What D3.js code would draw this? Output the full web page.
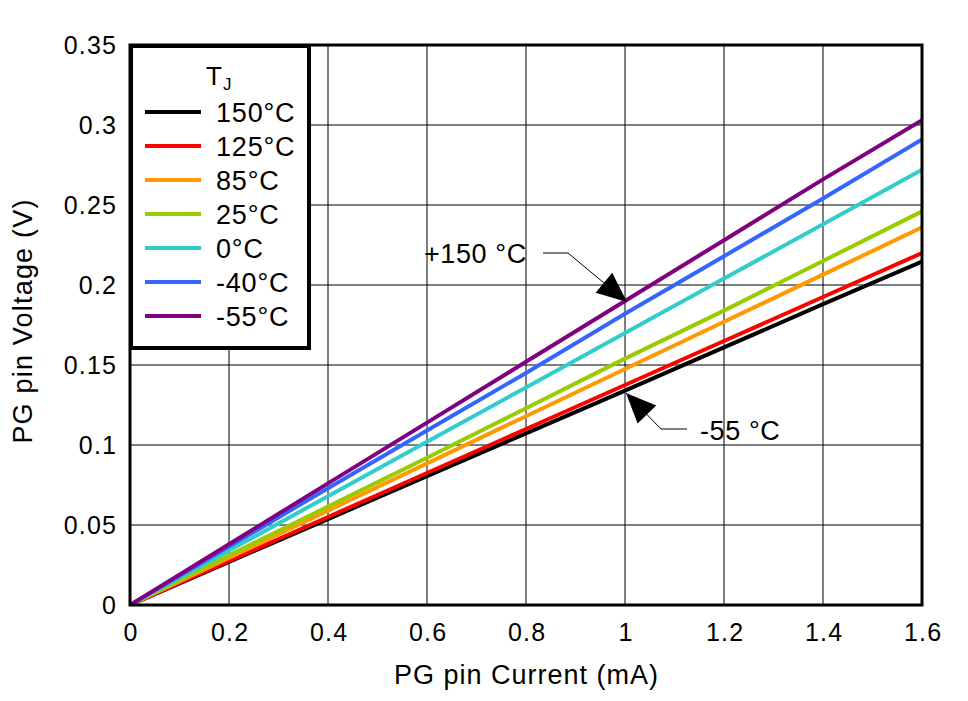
<!DOCTYPE html>
<html><head><meta charset="utf-8">
<script src="https://cdn.jsdelivr.net/npm/d3@7/dist/d3.min.js"></script>
<style>body{margin:0;background:#fff}svg{display:block}text{font-family:Arial,"Liberation Sans",sans-serif}</style>
</head><body><svg id="c" width="968" height="701"></svg>
<script>
const current = [0, 0.2, 0.4, 0.6, 0.8, 1.0, 1.2, 1.4, 1.6];
const seriesNames = ["150°C", "125°C", "85°C", "25°C", "0°C", "-40°C", "-55°C"];
const seriesColors = ["#000000", "#ff0000", "#ff9900", "#99cc00", "#33cccc", "#3366ff", "#800080"];
const v150 = [0, 0.027, 0.0537, 0.0805, 0.1073, 0.134, 0.161, 0.188, 0.2146];
const v125 = [0, 0.0275, 0.055, 0.0825, 0.110, 0.1375, 0.165, 0.1925, 0.220];
const v85 = [0, 0.0295, 0.059, 0.0885, 0.118, 0.1475, 0.177, 0.2065, 0.236];
const v25 = [0, 0.031, 0.0615, 0.092, 0.123, 0.154, 0.184, 0.215, 0.246];
const v0 = [0, 0.034, 0.068, 0.102, 0.136, 0.170, 0.204, 0.238, 0.272];
const vm40 = [0, 0.0365, 0.073, 0.109, 0.145, 0.182, 0.218, 0.254, 0.291];
const vm55 = [0, 0.038, 0.076, 0.114, 0.152, 0.190, 0.228, 0.266, 0.303];
const seriesValues = [v150, v125, v85, v25, v0, vm40, vm55];
const xTicks = [0, 0.2, 0.4, 0.6, 0.8, 1, 1.2, 1.4, 1.6];
const yTicks = [0, 0.05, 0.1, 0.15, 0.2, 0.25, 0.3, 0.35];
const xTitle = "PG pin Current (mA)";
const yTitle = "PG pin Voltage (V)";

const svg = d3.select("#c");
const L = 130, R = 922, T = 45, B = 605;
const x = d3.scaleLinear().domain([0, 1.6]).range([L, R]);
const y = d3.scaleLinear().domain([0, 0.35]).range([B, T]);
const FF = "Arial, 'Liberation Sans', sans-serif";

// grid
const g = svg.append("g");
g.selectAll("line.vx").data(xTicks).join("line")
  .attr("x1", d => x(d)).attr("x2", d => x(d)).attr("y1", T).attr("y2", B)
  .attr("stroke", "#000").attr("stroke-width", 1);
g.selectAll("line.hy").data(yTicks).join("line")
  .attr("y1", d => y(d)).attr("y2", d => y(d)).attr("x1", L).attr("x2", R)
  .attr("stroke", "#000").attr("stroke-width", 1);

// axes labels via d3 axes
const xa = svg.append("g").attr("transform", `translate(0,${B})`)
  .call(d3.axisBottom(x).tickValues(xTicks).tickSize(0).tickPadding(18).tickFormat(d3.format("")));
xa.select(".domain").remove();
xa.selectAll("text").attr("font-size", 25).attr("letter-spacing", 1.2).attr("dx", 0.6)
  .attr("fill", "#000").attr("font-family", FF);
const ya = svg.append("g").attr("transform", `translate(${L},0)`)
  .call(d3.axisLeft(y).tickValues(yTicks).tickSize(0).tickPadding(14).tickFormat(d3.format("")));
ya.select(".domain").remove();
ya.selectAll("text").attr("font-size", 25).attr("letter-spacing", 1.2).attr("dx", 1.2)
  .attr("fill", "#000").attr("font-family", FF);

// series
svg.append("clipPath").attr("id", "pc").append("rect")
  .attr("x", L).attr("y", T).attr("width", R - L).attr("height", B - T);
const line = d3.line().x((d, i) => x(current[i])).y(d => y(d));
svg.append("g").attr("clip-path", "url(#pc)").selectAll("path").data(seriesValues).join("path")
  .attr("d", line).attr("fill", "none")
  .attr("stroke", (d, i) => seriesColors[i]).attr("stroke-width", 4);

// frame
svg.append("rect").attr("x", L).attr("y", T).attr("width", R - L).attr("height", B - T)
  .attr("fill", "none").attr("stroke", "#000").attr("stroke-width", 3);

// legend
const lg = svg.append("g");
lg.append("rect").attr("x", 131).attr("y", 46).attr("width", 178).attr("height", 302)
  .attr("fill", "#fff").attr("stroke", "#000").attr("stroke-width", 4);
const tj = lg.append("text").attr("x", 206).attr("y", 85).attr("font-size", 26);
tj.append("tspan").text("T");
tj.append("tspan").attr("font-size", 17).attr("dy", 5).attr("dx", 1).text("J");
seriesNames.forEach((n, i) => {
  const yy = 112 + i * 34;
  lg.append("line").attr("x1", 145).attr("x2", 201).attr("y1", yy).attr("y2", yy)
    .attr("stroke", seriesColors[i]).attr("stroke-width", 4);
  lg.append("text").attr("x", 216).attr("y", yy + 10).attr("font-size", 27)
    .attr("letter-spacing", 0.8).text(n);
});

// annotations
function arrow(tipX, tipY, fromX, fromY) {
  const ang = Math.atan2(tipY - fromY, tipX - fromX);
  const len = 30, w = 13;
  const bx = tipX - len * Math.cos(ang), by = tipY - len * Math.sin(ang);
  const px = -Math.sin(ang) * w, py = Math.cos(ang) * w;
  svg.append("path").attr("d", `M${tipX},${tipY}L${bx + px},${by + py}L${bx - px},${by - py}Z`).attr("fill", "#000");
}
svg.append("text").attr("x", 424).attr("y", 263).attr("font-size", 27).attr("letter-spacing", 0.6).text("+150 °C");
svg.append("path").attr("d", "M543,253L568,253L627,302").attr("fill", "none").attr("stroke", "#000").attr("stroke-width", 1);
arrow(627, 302, 568, 253);
svg.append("text").attr("x", 700).attr("y", 440).attr("font-size", 27).attr("letter-spacing", 0.6).text("-55 °C");
svg.append("path").attr("d", "M687,429L661,429L626,393").attr("fill", "none").attr("stroke", "#000").attr("stroke-width", 1);
arrow(626, 393, 661, 429);

// titles
svg.append("text").attr("x", (L + R) / 2 + 0.5).attr("y", 684).attr("text-anchor", "middle")
  .attr("font-size", 27).attr("letter-spacing", 1).text(xTitle);
svg.append("text").attr("transform", `translate(32,321) rotate(-90)`).attr("text-anchor", "middle")
  .attr("font-size", 27).attr("letter-spacing", 1.2).text(yTitle);
</script></body></html>
